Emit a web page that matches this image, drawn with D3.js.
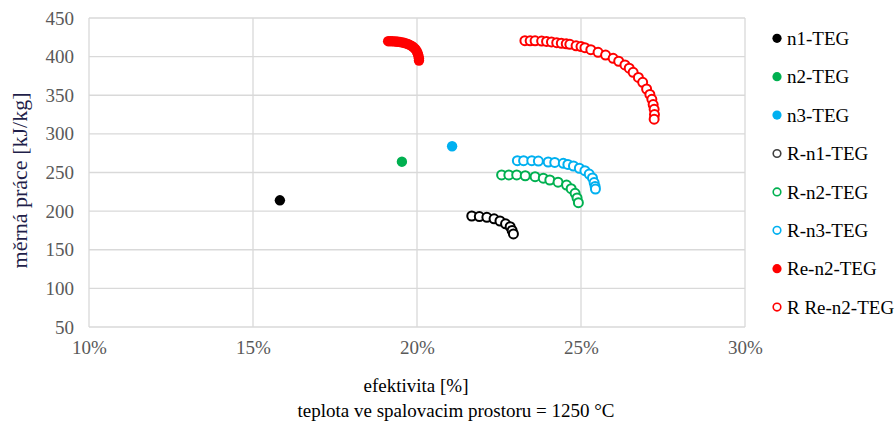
<!DOCTYPE html>
<html>
<head>
<meta charset="utf-8">
<script src="https://cdn.jsdelivr.net/npm/d3@7"></script>
<style>
  html, body { margin: 0; padding: 0; background: #fff; }
  svg { display: block; }
</style>
</head>
<body>
<svg id="chart" width="895" height="425"></svg>
<script>
// ---- data (x = efektivita %, y = měrná práce kJ/kg) ----
const seriesNames = ["n1-TEG", "n2-TEG", "n3-TEG", "R-n1-TEG", "R-n2-TEG", "R-n3-TEG", "Re-n2-TEG", "R Re-n2-TEG"];
const seriesColors = ["#000000", "#00b050", "#00b0f0", "#000000", "#00b050", "#00b0f0", "#ff0000", "#ff0000"];
const seriesFilled = [true, true, true, false, false, false, true, false];

const n1TEG = [[15.82, 214]];
const n2TEG = [[19.54, 264]];
const n3TEG = [[21.07, 284]];
const Rn1TEG = [[21.67, 193.7], [21.9, 193], [22.13, 192], [22.35, 190], [22.53, 187.2], [22.7, 183.5], [22.84, 179.8], [22.9, 175], [22.94, 170.5]];
const Rn2TEG = [[22.58, 246.8], [22.8, 246.8], [23.04, 246.8], [23.3, 245.8], [23.6, 244.6], [23.85, 242.7], [24.05, 240.3], [24.3, 237.5], [24.56, 233.8], [24.7, 229], [24.82, 223.1], [24.88, 217], [24.92, 211]];
const Rn3TEG = [[23.06, 265.3], [23.25, 265.3], [23.5, 265.3], [23.7, 264.8], [24.0, 263.6], [24.2, 263], [24.46, 261.9], [24.6, 260.5], [24.77, 258.4], [24.95, 255.5], [25.12, 252.3], [25.25, 248], [25.35, 243], [25.4, 237], [25.43, 232], [25.44, 228.6]];
const Ren2TEG = [[19.12, 420], [19.18, 420], [19.24, 420], [19.3, 419.8], [19.36, 419.6], [19.42, 419.3], [19.48, 419], [19.54, 418.5], [19.6, 418], [19.66, 417.2], [19.72, 416.3], [19.78, 415.2], [19.84, 413.8], [19.89, 412.2], [19.94, 410.3], [19.98, 408], [20.01, 405.5], [20.03, 403], [20.05, 400], [20.06, 397.5], [20.06, 395]];
const RRen2TEG = [[23.29, 420.6], [23.45, 420.5], [23.6, 420.4], [23.8, 420.2], [23.95, 419.6], [24.1, 419], [24.26, 418], [24.4, 417.3], [24.55, 416.6], [24.66, 416], [24.85, 414], [25.0, 413], [25.12, 411.6], [25.3, 409], [25.52, 405.6], [25.75, 402], [25.98, 397.8], [26.15, 394], [26.34, 389.2], [26.47, 385], [26.59, 379.7], [26.75, 373], [26.88, 366.8], [27.0, 358.1], [27.1, 351], [27.16, 344.8], [27.2, 338], [27.23, 331.8], [27.24, 325], [27.23, 319]];
const seriesData = [n1TEG, n2TEG, n3TEG, Rn1TEG, Rn2TEG, Rn3TEG, Ren2TEG, RRen2TEG];

const xTicks = [10, 15, 20, 25, 30];
const yTicks = [50, 100, 150, 200, 250, 300, 350, 400, 450];
const xTitle = "efektivita [%]";
const xSubtitle = "teplota ve spalovacim prostoru = 1250 °C";
const yTitle = "měrná práce [kJ/kg]";

// ---- layout ----
const FONT = "'Liberation Serif', 'Times New Roman', 'DejaVu Serif', serif";
const svg = d3.select("#chart");
const L = 89, R = 745, T = 18, B = 327;
const x = d3.scaleLinear().domain([10, 30]).range([L, R]);
const y = d3.scaleLinear().domain([50, 450]).range([B, T]);

// gridlines
const grid = svg.append("g");
grid.selectAll("line.h").data(yTicks).join("line")
  .attr("x1", L).attr("x2", R)
  .attr("y1", d => y(d)).attr("y2", d => y(d))
  .attr("stroke", "#d9d9d9").attr("stroke-width", 1.3);
grid.selectAll("line.v").data(xTicks).join("line")
  .attr("y1", T).attr("y2", B)
  .attr("x1", d => x(d)).attr("x2", d => x(d))
  .attr("stroke", "#d9d9d9").attr("stroke-width", 1.3);

// axes (labels only)
const yAxis = svg.append("g").attr("transform", `translate(${L},0)`)
  .call(d3.axisLeft(y).tickValues(yTicks).tickSize(0).tickPadding(15).tickFormat(d3.format("d")));
yAxis.select(".domain").remove();
yAxis.selectAll("text").style("font-family", FONT).style("font-size", "19px").attr("fill", "#595959");

const xAxis = svg.append("g").attr("transform", `translate(0,${B})`)
  .call(d3.axisBottom(x).tickValues(xTicks).tickSize(0).tickPadding(14).tickFormat(d => d + "%"));
xAxis.select(".domain").remove();
xAxis.selectAll("text").style("font-family", FONT).style("font-size", "19px").attr("fill", "#595959");

// titles
svg.append("text").attr("x", (L + R) / 2 - 1).attr("y", 392).attr("text-anchor", "middle")
  .style("font-family", FONT).style("font-size", "19px").attr("fill", "#000").text(xTitle);
svg.append("text").attr("x", (L + R) / 2 + 39).attr("y", 417).attr("text-anchor", "middle")
  .style("font-family", FONT).style("font-size", "19px").attr("fill", "#000").text(xSubtitle);
svg.append("text").attr("transform", `translate(27,${(T + B) / 2 + 8}) rotate(-90)`)
  .attr("text-anchor", "middle")
  .style("font-family", FONT).style("font-size", "22px").attr("fill", "#1f1f4a").text(yTitle);

// points
seriesData.forEach((data, i) => {
  const g = svg.append("g");
  g.selectAll("circle").data(data).join("circle")
    .attr("cx", d => x(d[0])).attr("cy", d => y(d[1]))
    .attr("r", seriesFilled[i] ? 5.2 : 4.5)
    .attr("fill", seriesFilled[i] ? seriesColors[i] : "#ffffff")
    .attr("stroke", seriesColors[i])
    .attr("stroke-width", seriesFilled[i] ? 0 : 2);
});

// legend
const leg = svg.append("g");
seriesNames.forEach((name, i) => {
  const cy = 38.3 + i * 38.4;
  leg.append("circle").attr("cx", 777).attr("cy", cy)
    .attr("r", seriesFilled[i] ? 4.6 : 3.8)
    .attr("fill", seriesFilled[i] ? seriesColors[i] : "#fff")
    .attr("stroke", seriesFilled[i] ? "none" : (i === 3 ? "#404040" : seriesColors[i]))
    .attr("stroke-width", 1.6);
  leg.append("text").attr("x", 787).attr("y", cy).attr("dy", "0.35em")
    .style("font-family", FONT).style("font-size", "19px").attr("fill", "#000").text(name);
});
</script>
</body>
</html>
